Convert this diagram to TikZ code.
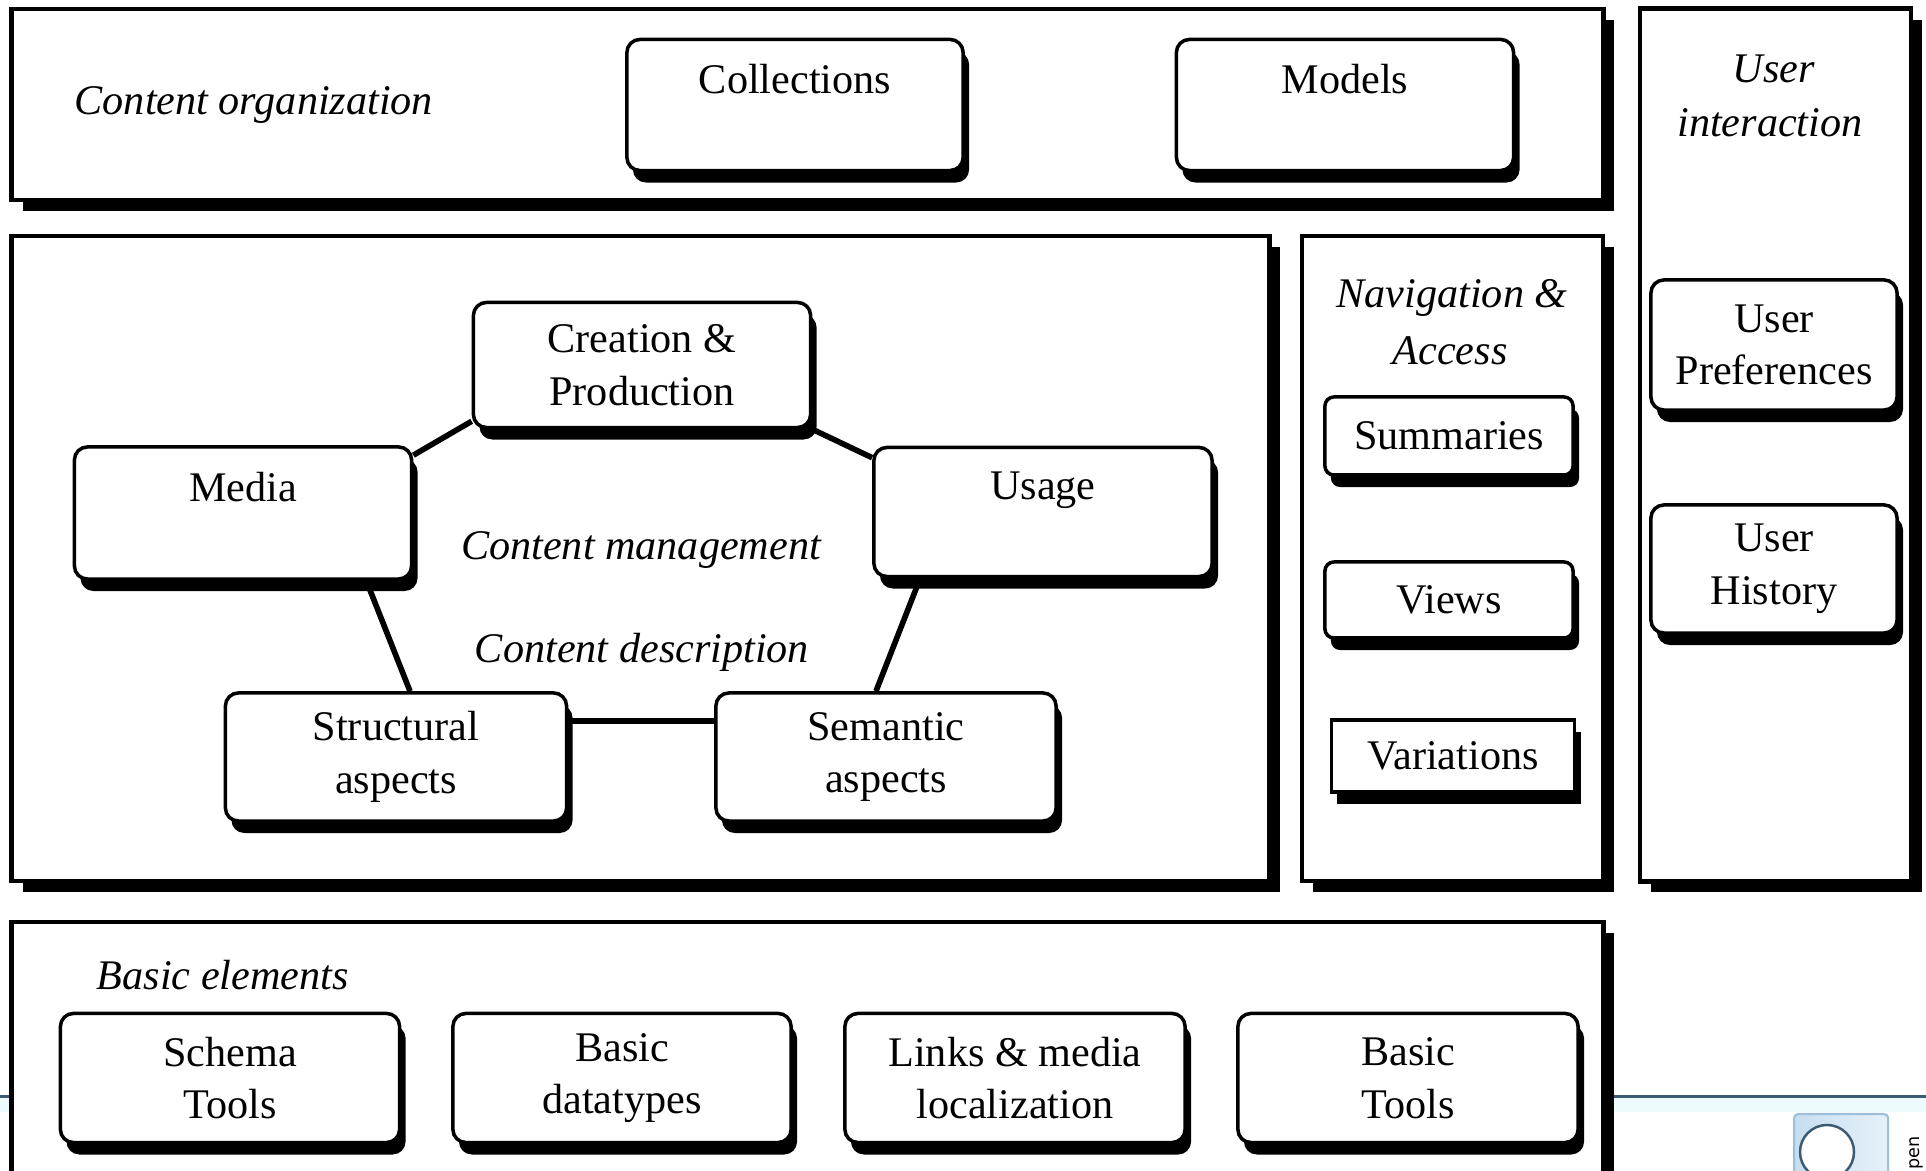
\documentclass[tikz,border=0pt]{standalone}
\usepackage{fontspec}
\setmainfont{Liberation Serif}
\newfontfamily\uifont{DejaVu Sans}
\usetikzlibrary{shadows}
\definecolor{lineblue}{HTML}{3B5B72}
\definecolor{bandcyan}{HTML}{EEFBFD}
\definecolor{btnA}{HTML}{C6DEF1}
\definecolor{btnB}{HTML}{E6F1FA}
\definecolor{btnborder}{HTML}{9CC0DC}
\tikzset{
  itl/.style={font=\fontsize{12}{15}\selectfont\itshape, inner sep=0pt},
  region/.style={draw, line width=1.3pt, fill=white, rectangle,
    drop shadow={opacity=1, fill=black, shadow xshift=0.11cm, shadow yshift=-0.11cm}},
  rbox/.style={draw, line width=1pt, fill=white, rounded corners=0.13cm, align=center,
    font=\fontsize{12}{15}\selectfont, inner sep=0pt,
    drop shadow={opacity=1, fill=black, shadow xshift=0.06cm, shadow yshift=-0.12cm}},
  sbox/.style={rbox, rounded corners=0.09cm},
  link/.style={line width=1.6pt},
}
\begin{document}
\begin{tikzpicture}[x=0.01cm, y=-0.01cm]
\fill[white] (0,0) rectangle (1926,1171);
\clip (0,0) rectangle (1926,1171);
\useasboundingbox (0,0) rectangle (1926,1171);
% screen remnant behind the diagram
\fill[bandcyan] (0,1098) rectangle (1926,1112);
\draw[line width=0.9pt, lineblue] (0,1096.5) -- (1926,1096.5);
\node[draw=btnborder, left color=btnA, right color=btnB, rounded corners=0.04cm,
  minimum width=0.94cm, minimum height=0.9cm, anchor=north west, inner sep=0pt, line width=0.6pt] (btn) at (1793,1113) {};
\node[circle, draw=lineblue, fill=white, line width=0.7pt, minimum size=0.54cm, inner sep=0pt] (btncircle) at (1827,1152) {};
\node[rotate=90, anchor=base east, inner sep=0pt, font=\uifont\fontsize{5}{6}\selectfont] (opentxt) at (1919,1136) {pen};

% regions
\node[region, minimum width=15.91cm, minimum height=1.91cm] (org) at (807.5,104.5) {};
\node[region, minimum width=2.71cm, minimum height=8.72cm] (ui) at (1775.5,445) {};
\node[region, minimum width=12.57cm, minimum height=6.45cm] (cm) at (640.5,558.5) {};
\node[region, minimum width=3.01cm, minimum height=6.45cm] (nav) at (1452.5,558.5) {};
\node[region, minimum width=15.91cm, minimum height=3.6cm] (basic) at (807.5,1102) {};

% region labels
\node[itl, anchor=base west] (lorg) at (74,115) {Content organization};
\node[itl, anchor=base] (lmgmt) at (641,560) {Content management};
\node[itl, anchor=base] (ldesc) at (642,663) {Content description};
\node[itl, anchor=base west] (lbasic) at (96,990) {Basic elements};
\node[itl, anchor=base] (lnav1) at (1452,308) {Navigation \&};
\node[itl, anchor=base] (lnav2) at (1450,365) {Access};
\node[itl, anchor=base] (lui1) at (1774,83) {User};
\node[itl, anchor=base] (lui2) at (1770,137) {interaction};

% content organization
\node[rbox, minimum width=3.36cm, minimum height=1.31cm] (coll) at (795,105) {Collections\\\mbox{}};
\node[rbox, minimum width=3.37cm, minimum height=1.31cm] (models) at (1345,105) {Models\\\mbox{}};

% content management
\node[rbox, minimum width=3.37cm, minimum height=1.25cm] (creation) at (642,365) {Creation \&\\Production};
\node[rbox, minimum width=3.37cm, minimum height=1.32cm] (media) at (243,513) {Media\\\mbox{}};
\node[rbox, minimum width=3.38cm, minimum height=1.29cm] (usage) at (1043,512) {Usage\\\mbox{}};
\node[rbox, minimum width=3.41cm, minimum height=1.28cm] (structural) at (396,757) {Structural\\aspects};
\node[rbox, minimum width=3.40cm, minimum height=1.28cm] (semantic) at (886,757) {Semantic\\aspects};

\draw[link] ([yshift=0.08cm]creation.south west) -- ([yshift=-0.10cm]media.north east);
\draw[link] (creation.south east) -- ([yshift=-0.12cm]usage.north west);
\draw[link] ([xshift=-0.47cm]media.south east) -- ([xshift=0.14cm]structural.north);
\draw[link] ([xshift=0.48cm]usage.south west) -- ([xshift=-0.10cm]semantic.north);
\draw[link] ([yshift=0.36cm]structural.east) -- ([yshift=0.36cm]semantic.west);

% navigation & access
\node[sbox, minimum width=2.48cm, minimum height=0.78cm] (summ) at (1449,436) {Summaries};
\node[sbox, minimum width=2.48cm, minimum height=0.76cm] (views) at (1449,600) {Views};
\node[rbox, rounded corners=0pt, minimum width=2.43cm, minimum height=0.72cm] (var) at (1453,756) {Variations};

% user interaction
\node[rbox, minimum width=2.46cm, minimum height=1.30cm] (upref) at (1774,345) {User\\Preferences};
\node[rbox, minimum width=2.46cm, minimum height=1.28cm] (uhist) at (1774,569) {User\\History};

% basic elements
\node[rbox, minimum width=3.39cm, minimum height=1.29cm] (schema) at (230,1078) {Schema\\Tools};
\node[rbox, minimum width=3.38cm, minimum height=1.29cm] (dtypes) at (622,1078) {Basic\\datatypes};
\node[rbox, minimum width=3.40cm, minimum height=1.29cm] (links) at (1015,1078) {Links \& media\\localization};
\node[rbox, minimum width=3.40cm, minimum height=1.29cm] (btools) at (1408,1078) {Basic\\Tools};
\end{tikzpicture}
\end{document}
